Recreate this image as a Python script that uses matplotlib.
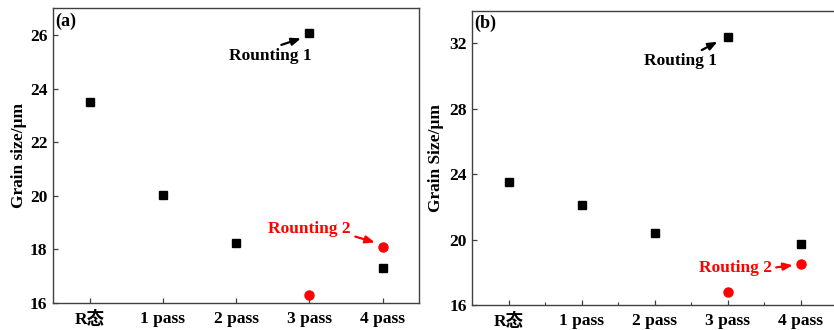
import matplotlib
matplotlib.use("Agg")
import matplotlib.pyplot as plt

plt.rcParams['font.family'] = ['Liberation Serif', 'Noto Sans CJK SC']
plt.rcParams['font.weight'] = 'bold'
plt.rcParams['mathtext.default'] = 'regular'

categories = ['R态', '1 pass', '2 pass', '3 pass', '4 pass']

# Panel (a)
a_black_x = [0, 1, 2, 3, 4]
a_black_y = [23.5, 20.04, 18.23, 26.08, 17.29]
a_red_x = [3, 4]
a_red_y = [16.29, 18.08]
a_yticks = [16, 18, 20, 22, 24, 26]

# Panel (b)
b_black_x = [0, 1, 2, 3, 4]
b_black_y = [23.51, 22.1, 20.43, 32.41, 19.75]
b_red_x = [3, 4]
b_red_y = [16.78, 18.49]
b_yticks = [16, 20, 24, 28, 32]

fig = plt.figure(figsize=(8.34, 3.30), dpi=100)
ax1 = fig.add_axes([0.0636, 0.0827, 0.4392, 0.8921])
ax2 = fig.add_axes([0.5663, 0.0758, 0.4375, 0.8918])

spine_color = '#404040'
for ax in (ax1, ax2):
    for s in ax.spines.values():
        s.set_color(spine_color)
        s.set_linewidth(1.0)
    ax.tick_params(direction='in', length=3.5, width=0.9, colors=spine_color,
                   labelcolor='black', labelsize=12.5)
    ax.set_xticks(range(len(categories)))
    ax.set_xticklabels(categories, fontweight='bold')
    ax.set_xlim(-0.5, 4.5)
    ax.tick_params(axis='x', pad=6)
    ax.tick_params(axis='y', pad=4)

arrow_style = '-|>,head_length=0.55,head_width=0.22'

ax1.plot(a_black_x, a_black_y, 's', color='black', ms=6, ls='none')
ax1.plot(a_red_x, a_red_y, 'o', color='#ff0000', ms=6.5, ls='none')
ax1.set_ylim(16, 27)
ax1.set_yticks(a_yticks)
ax1.set_ylabel('Grain size/μm', fontsize=12.5, fontweight='bold', labelpad=2)
ax1.text(0.006, 0.985, '(a)', transform=ax1.transAxes, ha='left', va='top',
         fontsize=13, fontweight='bold')
ax1.annotate('', xy=(2.92, 25.91), xytext=(2.58, 25.60),
             arrowprops=dict(arrowstyle=arrow_style, color='black', lw=1.6))
ax1.text(2.47, 25.22, 'Rounting 1', ha='center', va='center', fontsize=12.5,
         fontweight='bold', color='black')
ax1.annotate('', xy=(3.93, 18.22), xytext=(3.59, 18.50),
             arrowprops=dict(arrowstyle=arrow_style, color='#ff0000', lw=1.6))
ax1.text(3.0, 18.75, 'Rounting 2', ha='center', va='center', fontsize=12.5,
         fontweight='bold', color='#ff0000')

ax2.plot(b_black_x, b_black_y, 's', color='black', ms=6, ls='none')
ax2.plot(b_red_x, b_red_y, 'o', color='#ff0000', ms=6.5, ls='none')
ax2.set_ylim(16, 34)
ax2.set_yticks(b_yticks)
ax2.set_xticks([0.5, 1.5, 2.5, 3.5], minor=True)
ax2.tick_params(axis='x', which='minor', direction='in', length=2, width=0.8,
                colors=spine_color)
ax2.set_ylabel('Grain Size/μm', fontsize=12.5, fontweight='bold', labelpad=4)
ax2.text(0.006, 0.985, '(b)', transform=ax2.transAxes, ha='left', va='top',
         fontsize=13, fontweight='bold')
ax2.annotate('', xy=(2.894, 32.18), xytext=(2.61, 31.51),
             arrowprops=dict(arrowstyle=arrow_style, color='black', lw=1.6))
ax2.text(2.355, 30.94, 'Routing 1', ha='center', va='center', fontsize=12.5,
         fontweight='bold', color='black')
ax2.annotate('', xy=(3.93, 18.45), xytext=(3.626, 18.28),
             arrowprops=dict(arrowstyle=arrow_style, color='#ff0000', lw=1.6))
ax2.text(3.11, 18.25, 'Routing 2', ha='center', va='center', fontsize=12.5,
         fontweight='bold', color='#ff0000')

fig.savefig('out.png', dpi=100)
